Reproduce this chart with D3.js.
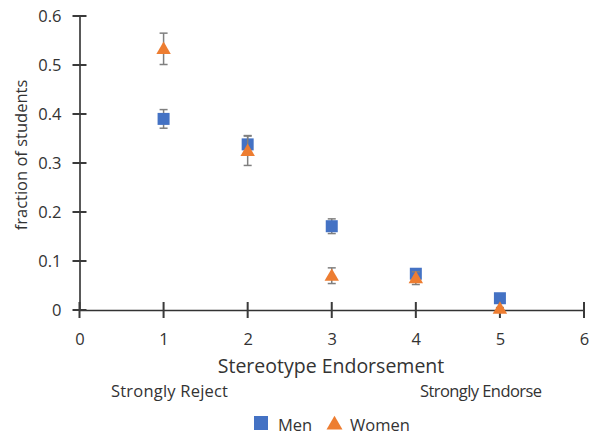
<!DOCTYPE html>
<html>
<head>
<meta charset="utf-8">
<script src="https://cdn.jsdelivr.net/npm/d3@7"></script>
<style>
  body { margin: 0; background: #fff; }
  svg text { font-family: "Open Sans", "Noto Sans", sans-serif; fill: #333; }
</style>
</head>
<body>
<svg id="chart" width="596" height="437"></svg>
<script>
// values
var levels = [1, 2, 3, 4, 5];
var menValues = [0.39, 0.338, 0.171, 0.074, 0.024];
var menErrors = [0.019, 0.018, 0.015, 0.007, 0.004];
var womenValues = [0.533, 0.325, 0.07, 0.065, 0.003];
var womenErrors = [0.032, 0.03, 0.016, 0.013, 0.002];
var xTicks = [0, 1, 2, 3, 4, 5, 6];
var yTicks = [0, 0.1, 0.2, 0.3, 0.4, 0.5, 0.6];

var svg = d3.select("#chart");
var x = d3.scaleLinear().domain([0, 6]).range([79.5, 584]);
var y = d3.scaleLinear().domain([0, 0.6]).range([310, 16]);
var axisColor = "#595959";

// y axis
var yAxis = svg.append("g").attr("transform", "translate(" + x(0) + ",0)")
  .call(d3.axisLeft(y).tickValues(yTicks).tickSize(0).tickPadding(18)
    .tickFormat(function(d){ return d === 0 ? "0" : d3.format(".1f")(d); }));
yAxis.select(".domain").attr("stroke", axisColor).attr("stroke-width", 2);
yAxis.selectAll(".tick text").attr("font-size", 16.5).attr("fill", "#333");

// x axis
var xAxis = svg.append("g").attr("transform", "translate(0," + y(0) + ")")
  .call(d3.axisBottom(x).tickValues(xTicks).tickSize(0).tickPadding(23).tickFormat(d3.format("d")));
xAxis.select(".domain").attr("stroke", "#333").attr("stroke-width", 1.5);
xAxis.selectAll(".tick text").attr("font-size", 16.5).attr("fill", "#333");

// tick marks crossing the axis lines, drawn as thin filled rects
var tickG = svg.append("g").attr("fill", "#3a3a3a");
tickG.selectAll("rect.yt").data(yTicks).join("rect").attr("class", "yt")
  .attr("x", x(0) - 7).attr("width", 14)
  .attr("y", function(d){ return y(d) - 1; }).attr("height", 2);
tickG.selectAll("rect.xt").data(xTicks).join("rect").attr("class", "xt")
  .attr("x", function(d){ return x(d) - 1; }).attr("width", 2)
  .attr("y", y(0) - 8).attr("height", 16);

// titles
svg.append("text").attr("x", 331).attr("y", 373).attr("text-anchor", "middle")
  .attr("font-size", 19.5).text("Stereotype Endorsement");
svg.append("text").attr("transform", "translate(27,155) rotate(-90)").attr("text-anchor", "middle")
  .attr("font-size", 16.5).text("fraction of students");
svg.append("text").attr("x", 111).attr("y", 397).attr("font-size", 16.5).attr("textLength", 117).text("Strongly Reject");
svg.append("text").attr("x", 420).attr("y", 397).attr("font-size", 16.5).attr("textLength", 122).text("Strongly Endorse");

var tri = d3.symbol().type(d3.symbolTriangle).size(90);

function drawErrors(values, errors) {
  var g = svg.append("g").attr("stroke", "#7f7f7f").attr("stroke-width", 1.5);
  levels.forEach(function(lv, i) {
    var cx = x(lv), top = y(values[i] + errors[i]), bot = y(values[i] - errors[i]);
    g.append("line").attr("x1", cx).attr("x2", cx).attr("y1", top).attr("y2", bot);
    g.append("line").attr("x1", cx - 4).attr("x2", cx + 4).attr("y1", top).attr("y2", top);
    g.append("line").attr("x1", cx - 4).attr("x2", cx + 4).attr("y1", bot).attr("y2", bot);
  });
}

// Men
drawErrors(menValues, menErrors);
svg.append("g").selectAll("rect").data(levels).join("rect")
  .attr("x", function(d){ return x(d) - 6; })
  .attr("y", function(d, i){ return y(menValues[i]) - 6; })
  .attr("width", 12).attr("height", 12)
  .attr("fill", "#4472C4");

// Women
drawErrors(womenValues, womenErrors);
svg.append("g").selectAll("path").data(levels).join("path")
  .attr("d", tri)
  .attr("transform", function(d, i){ return "translate(" + x(d) + "," + (y(womenValues[i]) + 1) + ")"; })
  .attr("fill", "#ED7D31");

// legend
var legend = svg.append("g");
legend.append("rect").attr("x", 254).attr("y", 416).attr("width", 14).attr("height", 14).attr("fill", "#4472C4");
legend.append("text").attr("x", 278).attr("y", 431).attr("font-size", 16.5).text("Men");
legend.append("path").attr("d", d3.symbol().type(d3.symbolTriangle).size(110)).attr("transform", "translate(334.5,425)").attr("fill", "#ED7D31");
legend.append("text").attr("x", 350).attr("y", 431).attr("font-size", 16.5).text("Women");
</script>
</body>
</html>
